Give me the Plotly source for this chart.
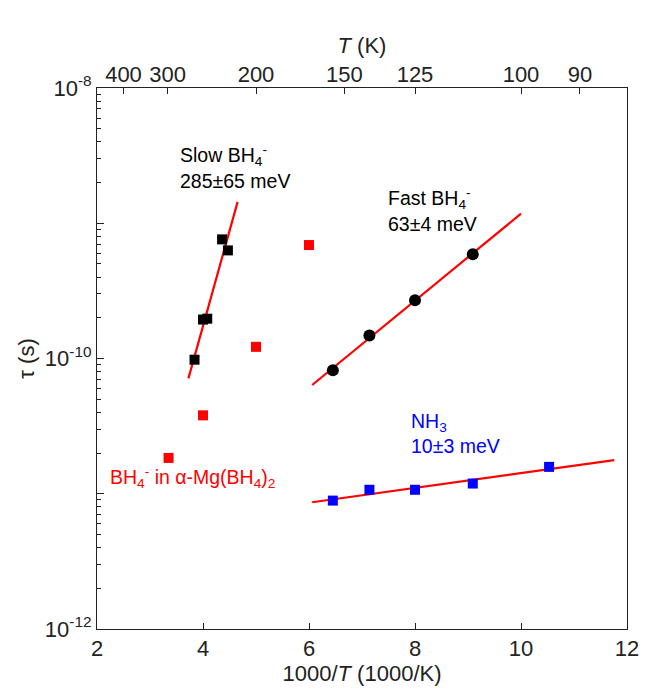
import numpy as np
import plotly.graph_objects as go

# Slow BH4- reorientation (squares, black)
slow_x = [3.84, 4.00, 4.08, 4.36, 4.47]
slow_tau = [9.8e-11, 1.94e-10, 1.97e-10, 7.6e-10, 6.3e-10]
slow_fit_range = [3.725, 4.653]

# Fast BH4- reorientation (circles, black)
fast_x = [6.45, 7.14, 8.00, 9.09]
fast_tau = [8.2e-11, 1.48e-10, 2.7e-10, 5.9e-10]
fast_fit_range = [6.06, 10.0]

# NH3 rotation (squares, blue)
nh3_x = [6.45, 7.14, 8.00, 9.09, 10.53]
nh3_tau = [8.9e-12, 1.07e-11, 1.07e-11, 1.19e-11, 1.58e-11]
nh3_fit_range = [6.06, 11.76]

# BH4- in alpha-Mg(BH4)2 (squares, red)
mg_x = [3.35, 4.00, 5.00, 6.00]
mg_tau = [1.84e-11, 3.8e-11, 1.22e-10, 6.9e-10]

# Top temperature axis
top_T = [400, 300, 200, 150, 125, 100, 90]

FONT = "Liberation Sans, Arial, sans-serif"
INK = "#222222"
AXIS_SIZE = 22
NOTE_SIZE = 19.5


def arrhenius_line(xs, taus, xr):
    k, b = np.polyfit(np.array(xs), np.log10(np.array(taus)), 1)
    xx = np.linspace(xr[0], xr[1], 50)
    return xx, 10 ** (k * xx + b)


fig = go.Figure()

for xs, taus, xr in [(slow_x, slow_tau, slow_fit_range),
                     (fast_x, fast_tau, fast_fit_range),
                     (nh3_x, nh3_tau, nh3_fit_range)]:
    lx, ly = arrhenius_line(xs, taus, xr)
    fig.add_trace(go.Scatter(x=lx, y=ly, mode="lines",
                             line=dict(color="#ff0000", width=2.2),
                             showlegend=False, hoverinfo="skip"))

fig.add_trace(go.Scatter(x=slow_x, y=slow_tau, mode="markers",
                         marker=dict(symbol="square", size=10, color="black"),
                         showlegend=False))
fig.add_trace(go.Scatter(x=fast_x, y=fast_tau, mode="markers",
                         marker=dict(symbol="circle", size=12, color="black"),
                         showlegend=False))
fig.add_trace(go.Scatter(x=nh3_x, y=nh3_tau, mode="markers",
                         marker=dict(symbol="square", size=10, color="#0000ff"),
                         showlegend=False))
fig.add_trace(go.Scatter(x=mg_x, y=mg_tau, mode="markers",
                         marker=dict(symbol="square", size=10, color="#ff0000"),
                         showlegend=False))

# invisible trace that carries the top axis
fig.add_trace(go.Scatter(x=[2, 12], y=[1e-12, 1e-12], xaxis="x2", mode="markers",
                         marker=dict(opacity=0), showlegend=False, hoverinfo="skip"))

decades = [1e-12, 1e-11, 1e-10, 1e-9, 1e-8]
dec_text = ["10<sup>-12</sup>", "", "10<sup>-10</sup>", "", "10<sup>-8</sup>"]
minor_vals = [m * d for d in decades[:-1] for m in range(2, 10)]

axis_common = dict(showline=True, linecolor=INK, linewidth=1, ticks="inside",
                   tickcolor=INK, showgrid=False, zeroline=False,
                   tickfont=dict(size=AXIS_SIZE))

fig.update_layout(
    width=651, height=689,
    margin=dict(l=97, r=15, t=88, b=57),
    paper_bgcolor="white", plot_bgcolor="white",
    font=dict(family=FONT, size=AXIS_SIZE, color=INK),
    xaxis=dict(range=[2, 12], tickvals=[2, 4, 6, 8, 10, 12], ticklen=6,
               title=dict(text="1000/<i>T</i> (1000/K)", standoff=0,
                          font=dict(size=AXIS_SIZE)),
               **axis_common),
    xaxis2=dict(range=[2, 12], overlaying="x", side="top",
                tickvals=[1000 / t for t in top_T],
                ticktext=[str(t) for t in top_T], ticklen=6,
                ticklabelstandoff=-4,
                title=dict(text="<i>T</i> (K)", standoff=2,
                           font=dict(size=AXIS_SIZE)),
                **axis_common),
    yaxis=dict(type="log", range=[-12, -8], tickvals=decades, ticktext=dec_text,
               ticklen=7, mirror=True,
               minor=dict(tickvals=minor_vals, ticks="inside", ticklen=4,
                          tickcolor=INK),
               title=dict(text="τ (s)", standoff=4, font=dict(size=AXIS_SIZE)),
               **axis_common),
)

# (x, log10 tau of block centre, text, colour)
labels = [
    (3.52, -8.585, "Slow BH<sub>4</sub><sup>-</sup><br>285±65 meV", "black"),
    (7.455, -8.904, "Fast BH<sub>4</sub><sup>-</sup><br>63±4 meV", "black"),
    (7.88, -10.551, "NH<sub>3</sub><br>10±3 meV", "#0000ff"),
    (2.204, -10.882, "BH<sub>4</sub><sup>-</sup> in α-Mg(BH<sub>4</sub>)<sub>2</sub>", "#ff0000"),
]
for x, ly, txt, col in labels:
    fig.add_annotation(x=x, y=ly, xref="x", yref="y", text=txt, showarrow=False,
                       xanchor="left", yanchor="middle", align="left",
                       font=dict(family=FONT, size=NOTE_SIZE, color=col))

fig.write_html("out.html")
